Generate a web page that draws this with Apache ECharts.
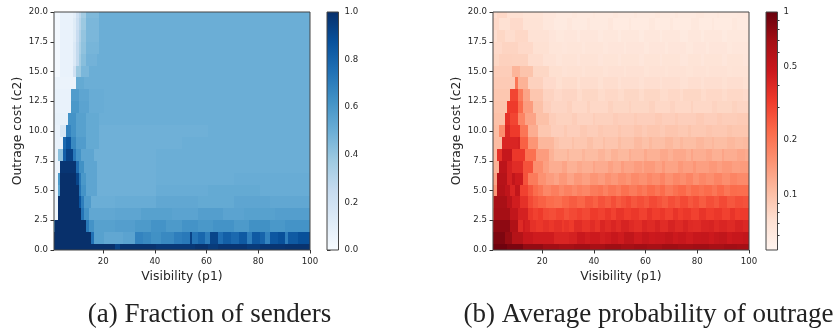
<!DOCTYPE html>
<html><head><meta charset="utf-8">
<style>html,body{margin:0;padding:0;background:#fff}#c{width:834px;height:329px;filter:blur(.35px)}</style>
<script src="https://cdn.jsdelivr.net/npm/echarts@6/dist/echarts.min.js"></script>
</head><body><div id="c"></div>
<script>
// Each row is one outage cost c2 = 0..20; each pair is [last p1 of the run, value]
const fractionOfSenders = [
 [[24,1],[26,.93],[40,.99],[55,.97],[60,.99],[64,.96],[75,.98],[80,.96],[90,.98],[100,.99]],
 [[15,1],[16,.75],[20,.56],[27,.53],[32,.55],[35,.68],[38,.66],[42,.63],[47,.66],[50,.7],[53,.72],[54,.93],[56,.74],[59,.79],[61,.7],[64,.92],[66,.76],[69,.82],[72,.78],[75,.84],[77,.7],[80,.84],[82,.8],[84,.68],[87,.85],[90,.88],[91,.7],[95,.84],[99,.88],[100,.92]],
 [[1,.68],[13,1],[14,.72],[16,.62],[24,.56],[32,.57],[38,.59],[44,.62],[50,.59],[56,.62],[62,.6],[70,.62],[76,.59],[84,.63],[90,.6],[100,.62]],
 [[2,.04],[11,1],[12,.74],[14,.62],[24,.53],[34,.54],[46,.56],[56,.55],[66,.57],[74,.55],[86,.56],[100,.57]],
 [[2,.04],[10,1],[11,.86],[12,.7],[15,.58],[24,.5],[40,.51],[56,.53],[70,.52],[84,.54],[100,.53]],
 [[2,.05],[3,.55],[10,1],[11,.74],[13,.62],[17,.54],[40,.49],[60,.51],[80,.52],[100,.51]],
 [[2,.05],[3,.6],[9,1],[10,.92],[11,.72],[13,.6],[17,.54],[40,.49],[70,.5],[100,.51]],
 [[3,.06],[9,.98],[10,.76],[12,.63],[17,.54],[40,.49],[70,.5],[100,.5]],
 [[2,.06],[4,.42],[5,.82],[8,.93],[9,.72],[11,.62],[16,.54],[40,.49],[100,.5]],
 [[4,.07],[5,.78],[7,.86],[9,.66],[13,.58],[18,.52],[50,.49],[100,.5]],
 [[3,.07],[5,.16],[7,.68],[9,.62],[13,.56],[18,.52],[60,.49],[100,.5]],
 [[6,.08],[9,.62],[13,.56],[18,.52],[100,.5]],
 [[7,.07],[10,.6],[14,.55],[20,.51],[100,.5]],
 [[7,.07],[10,.58],[14,.54],[20,.51],[100,.5]],
 [[9,.06],[12,.52],[18,.5],[100,.5]],
 [[3,.02],[8,.07],[9,.2],[11,.38],[14,.46],[100,.5]],
 [[3,.02],[8,.07],[9,.14],[10,.26],[11,.36],[13,.43],[17,.48],[100,.5]],
 [[3,.02],[8,.07],[9,.14],[10,.26],[11,.34],[13,.41],[18,.47],[100,.5]],
 [[3,.02],[8,.07],[9,.12],[10,.24],[11,.32],[13,.4],[18,.46],[100,.5]],
 [[3,.02],[8,.07],[9,.12],[10,.22],[11,.3],[13,.38],[18,.46],[100,.5]],
 [[3,.02],[8,.07],[9,.1],[10,.2],[11,.28],[13,.36],[18,.45],[100,.5]]
];
const probabilityOfOutage = [
 [[6,.95],[12,.88],[20,.76],[26,.7],[32,.67],[38,.7],[44,.66],[50,.71],[55,.67],[60,.7],[66,.67],[72,.71],[78,.68],[84,.7],[90,.67],[95,.7],[100,.68]],
 [[1,.8],[5,.87],[8,.75],[12,.59],[16,.49],[24,.46],[30,.41],[33,.43],[36,.48],[38,.45],[42,.47],[44,.44],[46,.46],[49,.49],[51,.46],[55,.52],[58,.46],[61,.5],[63,.47],[67,.48],[70,.51],[72,.47],[75,.49],[78,.46],[81,.49],[84,.5],[86,.47],[88,.5],[91,.52],[93,.47],[97,.49],[100,.51]],
 [[1,.55],[7,.79],[10,.62],[12,.39],[13,.46],[15,.43],[17,.36],[20,.34],[22,.36],[24,.34],[27,.36],[28,.33],[30,.35],[32,.33],[35,.38],[38,.35],[40,.38],[42,.35],[44,.41],[46,.38],[48,.41],[50,.38],[53,.42],[55,.39],[58,.37],[60,.41],[63,.39],[65,.42],[68,.38],[71,.42],[74,.39],[76,.42],[78,.39],[81,.38],[84,.41],[86,.42],[88,.39],[91,.41],[94,.39],[97,.42],[100,.4]],
 [[1,.22],[7,.68],[10,.52],[14,.43],[16,.34],[18,.31],[20,.33],[22,.29],[25,.28],[28,.3],[30,.27],[33,.29],[35,.31],[38,.29],[41,.33],[44,.31],[46,.34],[48,.31],[51,.35],[54,.32],[57,.34],[60,.31],[62,.35],[65,.32],[67,.34],[70,.31],[72,.35],[74,.32],[77,.34],[80,.31],[83,.35],[86,.32],[89,.34],[92,.31],[94,.35],[96,.32],[100,.33]],
 [[1,.19],[6,.66],[8,.55],[11,.45],[14,.36],[16,.29],[18,.26],[21,.24],[24,.22],[27,.21],[30,.23],[33,.25],[36,.23],[39,.26],[41,.24],[44,.27],[46,.25],[48,.28],[50,.25],[52,.27],[54,.29],[56,.26],[59,.28],[61,.26],[64,.29],[66,.27],[68,.25],[71,.28],[73,.26],[76,.29],[78,.26],[80,.28],[83,.25],[86,.28],[88,.26],[91,.29],[94,.26],[97,.28],[100,.27]],
 [[2,.15],[5,.6],[7,.53],[9,.41],[11,.52],[14,.31],[16,.26],[18,.22],[20,.2],[23,.17],[26,.185],[28,.165],[31,.18],[33,.165],[35,.18],[38,.17],[41,.19],[43,.2],[45,.18],[48,.2],[50,.185],[53,.21],[56,.19],[58,.21],[60,.195],[63,.22],[65,.2],[67,.22],[70,.19],[72,.21],[75,.225],[77,.2],[80,.22],[82,.205],[85,.22],[87,.2],[90,.225],[92,.2],[95,.22],[100,.215]],
 [[2,.13],[6,.58],[8,.43],[9,.52],[12,.46],[14,.27],[18,.19],[21,.155],[24,.14],[26,.13],[29,.145],[32,.13],[35,.145],[38,.135],[41,.15],[44,.14],[46,.155],[49,.145],[52,.16],[54,.15],[57,.165],[60,.155],[62,.17],[65,.16],[67,.175],[70,.155],[73,.17],[75,.16],[78,.175],[80,.155],[83,.17],[86,.16],[89,.175],[92,.16],[95,.175],[100,.165]],
 [[3,.116],[6,.55],[8,.43],[12,.38],[16,.27],[20,.16],[22,.135],[27,.12],[29,.13],[33,.116],[35,.125],[39,.118],[40,.13],[45,.122],[47,.134],[50,.125],[51,.14],[55,.13],[58,.14],[59,.13],[63,.143],[66,.132],[67,.145],[72,.132],[74,.145],[78,.136],[79,.148],[84,.136],[87,.146],[89,.136],[93,.146],[96,.136],[100,.142]],
 [[2,.106],[4,.36],[8,.5],[13,.34],[17,.21],[22,.14],[24,.115],[29,.104],[30,.112],[35,.103],[36,.112],[41,.105],[44,.113],[46,.105],[49,.115],[53,.108],[54,.12],[59,.113],[60,.125],[65,.116],[68,.126],[70,.117],[75,.126],[77,.117],[78,.13],[83,.119],[85,.127],[89,.117],[90,.13],[95,.12],[98,.128],[100,.122]],
 [[4,.105],[10,.41],[11,.43],[14,.24],[18,.15],[24,.11],[26,.098],[31,.093],[32,.1],[37,.094],[39,.101],[43,.094],[44,.102],[49,.096],[50,.104],[55,.098],[58,.107],[61,.1],[62,.108],[67,.102],[70,.109],[73,.102],[74,.109],[79,.103],[82,.11],[85,.104],[86,.11],[91,.103],[94,.109],[97,.104],[100,.107]],
 [[3,.103],[5,.16],[7,.4],[11,.33],[14,.2],[18,.12],[23,.094],[28,.087],[29,.092],[34,.087],[37,.092],[41,.088],[43,.093],[49,.09],[50,.095],[55,.091],[58,.096],[60,.091],[65,.095],[67,.091],[72,.096],[76,.092],[77,.097],[83,.092],[85,.096],[91,.093],[93,.097],[100,.094]],
 [[5,.1],[7,.36],[10,.3],[13,.175],[17,.13],[22,.1],[25,.088],[31,.084],[33,.088],[39,.083],[40,.088],[47,.085],[49,.089],[55,.086],[56,.09],[63,.087],[66,.091],[71,.087],[72,.091],[79,.087],[82,.091],[87,.087],[89,.091],[95,.088],[100,.09]],
 [[6,.097],[10,.33],[12,.22],[16,.14],[20,.1],[23,.086],[29,.081],[31,.085],[37,.079],[38,.084],[45,.079],[47,.084],[53,.08],[54,.084],[61,.08],[63,.084],[69,.079],[71,.083],[77,.079],[78,.084],[85,.079],[87,.083],[93,.08],[95,.084],[100,.081]],
 [[7,.094],[10,.3],[12,.19],[15,.13],[20,.095],[24,.083],[27,.078],[33,.081],[35,.076],[41,.08],[44,.076],[49,.079],[51,.076],[57,.08],[59,.076],[65,.08],[68,.076],[73,.079],[74,.076],[81,.08],[83,.076],[89,.079],[91,.076],[97,.079],[100,.077]],
 [[9,.091],[10,.2],[14,.115],[20,.085],[25,.077],[27,.073],[33,.076],[34,.072],[41,.075],[43,.072],[49,.075],[50,.071],[57,.074],[59,.071],[65,.074],[66,.071],[73,.074],[76,.071],[81,.074],[82,.071],[89,.074],[91,.072],[97,.074],[100,.072]],
 [[8,.088],[11,.112],[16,.097],[22,.08],[27,.073],[29,.07],[35,.072],[36,.069],[43,.072],[45,.069],[51,.071],[52,.068],[59,.071],[61,.068],[67,.07],[68,.068],[75,.07],[78,.068],[83,.07],[84,.068],[91,.07],[93,.068],[100,.069]],
 [[3,.08],[8,.085],[14,.084],[20,.075],[25,.07],[27,.067],[33,.069],[34,.066],[41,.069],[43,.066],[49,.068],[50,.065],[57,.068],[59,.065],[65,.068],[66,.065],[73,.068],[76,.065],[81,.068],[82,.065],[89,.068],[91,.065],[97,.068],[100,.066]],
 [[4,.078],[10,.082],[16,.078],[22,.072],[27,.067],[29,.065],[35,.067],[36,.064],[43,.067],[45,.064],[51,.066],[52,.063],[59,.066],[61,.063],[67,.066],[68,.063],[75,.066],[78,.063],[83,.066],[84,.063],[91,.066],[93,.063],[100,.065]],
 [[2,.074],[5,.08],[9,.075],[14,.079],[22,.07],[25,.066],[28,.063],[33,.065],[34,.062],[41,.065],[43,.062],[49,.064],[50,.061],[57,.064],[59,.061],[65,.064],[66,.061],[73,.064],[76,.061],[81,.064],[82,.061],[89,.064],[91,.061],[100,.063]],
 [[3,.078],[7,.072],[12,.077],[20,.069],[24,.064],[29,.061],[31,.064],[37,.061],[38,.064],[45,.061],[47,.064],[53,.06],[54,.063],[61,.06],[63,.063],[69,.06],[70,.063],[77,.06],[80,.063],[85,.06],[86,.063],[93,.06],[95,.063],[100,.061]],
 [[2,.074],[6,.079],[12,.072],[20,.068],[25,.064],[31,.061],[33,.063],[39,.061],[40,.063],[47,.061],[49,.063],[55,.061],[56,.063],[63,.061],[65,.063],[71,.061],[72,.063],[79,.061],[82,.063],[87,.061],[88,.063],[95,.061],[100,.062]]
];
const p1Ticks = [20, 40, 60, 80, 100];
const senderBarTicks = [0, .2, .4, .6, .8, 1];
const outageBarTicks = [.1, .2, .5, 1];
const outageBarMinorTicks = [.06, .07, .08, .09, .3, .4, .6, .7, .8, .9];
const bluesStops = ['#f7fbff','#deebf7','#c6dbef','#9ecae1','#6baed6','#4292c6','#2171b5','#08519c','#08306b'];
const redsStops = ['#fff5f0','#fee0d2','#fcbba1','#fc9272','#fb6a4a','#ef3b2c','#cb181d','#a50f15','#67000d'];
const OUT_MIN = .05, OUT_MAX = 1;

const hex = s => [1,3,5].map(i => parseInt(s.substr(i,2),16));
function cmap(stops, t){
  t = Math.max(0, Math.min(1, t));
  const f = t*(stops.length-1), i = Math.min(Math.floor(f), stops.length-2), u = f-i;
  const a = hex(stops[i]), b = hex(stops[i+1]);
  return 'rgb(' + a.map((v,k)=>Math.round(v+(b[k]-v)*u)).join(',') + ')';
}
const logT = v => Math.log(v/OUT_MIN)/Math.log(OUT_MAX/OUT_MIN);
function cells(rows){
  const out = [];
  rows.forEach((runs, c2) => {
    let p = 1;
    runs.forEach(([end, v]) => { for (; p <= end; p++) out.push([p, c2, v]); });
  });
  return out;
}
const heat = (idx, stops, toT, rows) => ({
  type:'custom', xAxisIndex:idx, yAxisIndex:idx, data:cells(rows), animation:false, silent:true, clip:true,
  encode:{x:0,y:1},
  renderItem(params, api){
    const p = api.value(0), c = api.value(1), v = api.value(2);
    const a = api.coord([Math.max(1,p-.5), Math.min(20,c+.5)]);
    const b = api.coord([Math.min(100,p+.5), Math.max(0,c-.5)]);
    const x = Math.round(a[0]), y = Math.round(a[1]);
    return {type:'rect', shape:{x, y, width:Math.round(b[0])-x, height:Math.round(b[1])-y},
      style:{fill:cmap(stops, toT(v))}};
  }
});
const frame = (idx, x0, x1, y0, y1) => ({
  type:'custom', xAxisIndex:idx, yAxisIndex:idx, data:[[x0,y0]], z:20, animation:false, silent:true, clip:false,
  renderItem(params, api){
    const a = api.coord([x0,y1]), b = api.coord([x1,y0]);
    return {type:'rect', shape:{x:a[0], y:a[1], width:b[0]-a[0], height:b[1]-a[1]},
      style:{fill:'none', stroke:'#444', lineWidth:1}};
  }
});
const bar = (idx, stops, y0, y1) => ({
  type:'custom', xAxisIndex:idx, yAxisIndex:idx, data:[[0,y0]], animation:false, silent:true, clip:false,
  renderItem(params, api){
    const a = api.coord([0,y1]), b = api.coord([1,y0]);
    return {type:'rect', shape:{x:a[0], y:a[1], width:b[0]-a[0], height:b[1]-a[1]},
      style:{fill:new echarts.graphic.LinearGradient(0,1,0,0, stops.map((c,i)=>({offset:i/(stops.length-1), color:c})))}};
  }
});
const TICK = '#333', TXT = '#262626', FS = 8.6, NAME = 12.4, FONT = '"DejaVu Sans"';
const lab = {color:TXT, fontSize:FS, fontFamily:FONT, margin:6};
const tick = {show:true, length:3.5, lineStyle:{color:TICK, width:1}};
const mainGrid = left => ({left, top:12, width:256, height:238});
const xMain = gridIndex => ({type:'value', gridIndex, min:1, max:100, name:'Visibility (p1)', nameLocation:'middle', nameGap:20,
  nameTextStyle:{color:TXT, fontSize:NAME, fontFamily:FONT},
  axisLine:{show:false}, splitLine:{show:false},
  axisTick:{...tick, customValues:p1Ticks}, axisLabel:{...lab, margin:7, customValues:p1Ticks, hideOverlap:false}});
const yMain = gridIndex => ({type:'value', gridIndex, min:0, max:20, interval:2.5, name:'Outrage cost (c2)', nameLocation:'middle', nameRotate:90, nameGap:30,
  nameTextStyle:{color:TXT, fontSize:NAME, fontFamily:FONT},
  axisLine:{show:false}, splitLine:{show:false}, axisTick:tick, axisLabel:{...lab, formatter:v=>v.toFixed(1)}});
const xBar = gridIndex => ({type:'value', gridIndex, min:0, max:1, show:false});

const option = {
  backgroundColor:'#fff', animation:false,
  grid:[mainGrid(54), {left:327,top:12,width:11.5,height:238}, mainGrid(493), {left:766,top:12,width:11.5,height:238}],
  xAxis:[xMain(0), xBar(1), xMain(2), xBar(3)],
  yAxis:[
    yMain(0),
    {type:'value', gridIndex:1, position:'right', min:0, max:1, axisLine:{show:false}, splitLine:{show:false},
     axisTick:{...tick, customValues:senderBarTicks},
     axisLabel:{...lab, customValues:senderBarTicks, formatter:v=>Number(v).toFixed(1)}},
    yMain(2),
    {type:'log', logBase:10, gridIndex:3, position:'right', min:OUT_MIN, max:OUT_MAX, axisLine:{show:false}, splitLine:{show:false},
     axisTick:{...tick, customValues:outageBarTicks},
     axisLabel:{...lab, customValues:outageBarTicks, formatter:v=>String(+Number(v).toPrecision(3))}},
    {type:'log', logBase:10, gridIndex:3, position:'right', min:OUT_MIN, max:OUT_MAX, axisLine:{show:false}, splitLine:{show:false},
     axisTick:{show:true, length:2, lineStyle:{color:TICK, width:1}, customValues:outageBarMinorTicks},
     axisLabel:{show:false}}
  ],
  series:[
    heat(0, bluesStops, v=>v, fractionOfSenders),
    frame(0, 1, 100, 0, 20),
    bar(1, bluesStops, 0, 1),
    frame(1, 0, 1, 0, 1),
    heat(2, redsStops, logT, probabilityOfOutage),
    frame(2, 1, 100, 0, 20),
    bar(3, redsStops, OUT_MIN, OUT_MAX),
    frame(3, 0, 1, OUT_MIN, OUT_MAX)
  ],
  title:[
    {text:'(a) Fraction of senders', left:204.5, top:296, textAlign:'center', textStyle:{fontFamily:'"Liberation Serif"', fontSize:27, fontWeight:'normal', color:'#222'}},
    {text:'(b) Average probability of outrage', left:643.5, top:296, textAlign:'center', textStyle:{fontFamily:'"Liberation Serif"', fontSize:27, fontWeight:'normal', color:'#222'}}
  ]
};
const chart = echarts.init(document.getElementById('c'), null, {renderer:'canvas', width:834, height:329});
chart.setOption(option);
</script></body></html>
